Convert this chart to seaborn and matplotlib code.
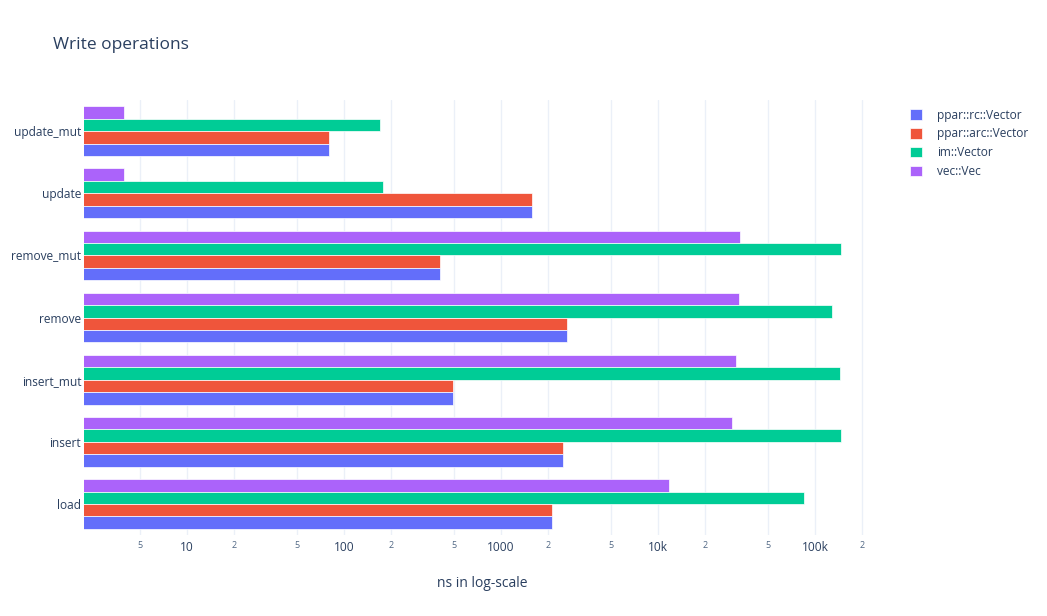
import pandas as pd
import numpy as np
import seaborn as sns
import matplotlib.pyplot as plt
from matplotlib.patches import Patch
from matplotlib.ticker import FixedLocator, FixedFormatter

operations = ['update_mut', 'update', 'remove_mut', 'remove', 'insert_mut', 'insert', 'load']
series_names = ['ppar::rc::Vector', 'ppar::arc::Vector', 'im::Vector', 'vec::Vec']
rc_vals = [80, 1575, 409, 2630, 494, 2483, 2113]
arc_vals = [80, 1575, 409, 2630, 494, 2483, 2113]
im_vals = [169, 177, 146000, 128000, 144000, 146000, 85000]
vec_vals = [4, 4, 33300, 32900, 31400, 29600, 11700]
colors = ['#636efa', '#EF553B', '#00cc96', '#ab63fa']

major_ticks = [10, 100, 1000, 10000, 100000]
major_labels = ['10', '100', '1000', '10k', '100k']
minor_ticks = [5, 20, 50, 200, 500, 2000, 5000, 20000, 50000, 200000]
minor_labels = ['5', '2', '5', '2', '5', '2', '5', '2', '5', '2']

rows = []
for name, vals in zip(series_names, [rc_vals, arc_vals, im_vals, vec_vals]):
    for op, v in zip(operations, vals):
        rows.append({'op': op, 'series': name, 'ns': v})
df = pd.DataFrame(rows)

sns.set_style('white')
plt.rcParams['font.family'] = ['Open Sans', 'DejaVu Sans']

fig = plt.figure(figsize=(10.47, 6.16), dpi=100)
ax = fig.add_axes([84 / 1047, 1 - 535 / 616, (880 - 84) / 1047, 435 / 616])

palette = dict(zip(series_names, colors))
# vec on top of each group, rc at the bottom
hue_order = series_names[::-1]
sns.barplot(data=df, y='op', x='ns', hue='series', order=operations, hue_order=hue_order,
            palette=palette, orient='h', width=0.8, ax=ax, legend=False,
            edgecolor='white', linewidth=0.5, saturation=1)
ax.set_xscale('log')
ax.set_xlim(2.21, 259000)
ax.set_ylim(6.5, -0.5)

ax.xaxis.set_major_locator(FixedLocator(major_ticks))
ax.xaxis.set_major_formatter(FixedFormatter(major_labels))
ax.xaxis.set_minor_locator(FixedLocator(minor_ticks))
ax.xaxis.set_minor_formatter(FixedFormatter(minor_labels))
ax.tick_params(axis='x', which='major', labelsize=8.6, colors='#2a3f5f', length=0, pad=4)
ax.tick_params(axis='x', which='minor', labelsize=6.5, colors='#506784', length=0, pad=4)
ax.tick_params(axis='y', labelsize=8.6, colors='#2a3f5f', length=0, pad=2)
ax.grid(axis='x', which='both', color='#ebf0f8', linewidth=1)
ax.set_axisbelow(True)
for s in ax.spines.values():
    s.set_visible(False)

ax.set_ylabel('')
ax.set_xlabel('ns in log-scale', fontsize=10, color='#2a3f5f', labelpad=16)

fig.text(53 / 1047, 1 - 45 / 616, 'Write operations', fontsize=12.5, color='#2a3f5f', va='center')

handles = [Patch(facecolor=c, edgecolor='white', linewidth=0.5, label=n) for n, c in zip(series_names, colors)]
leg = fig.legend(handles=handles, loc='upper left', bbox_to_anchor=(899 / 1047, 1 - 98 / 616),
                 frameon=False, fontsize=8.6, handlelength=1.0, handleheight=1.0,
                 handletextpad=1.3, labelspacing=0.48)
for t in leg.get_texts():
    t.set_color('#2a3f5f')

fig.savefig('out.png', dpi=100)
